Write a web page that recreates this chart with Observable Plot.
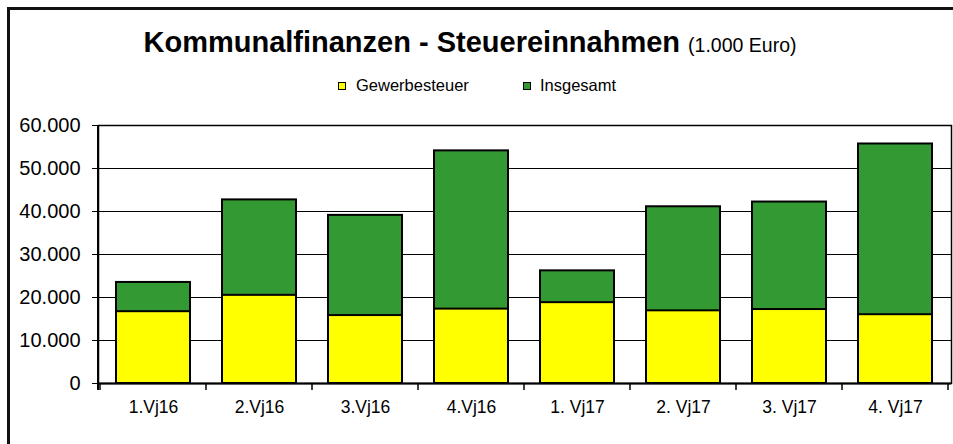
<!DOCTYPE html>
<html><head><meta charset="utf-8">
<script src="https://cdn.jsdelivr.net/npm/d3@7"></script>
<script src="https://cdn.jsdelivr.net/npm/@observablehq/plot@0.6"></script>
<style>
html,body{margin:0;padding:0;background:#fff;overflow:hidden;}
#wrap{position:relative;width:953px;height:444px;overflow:hidden;font-family:"Liberation Sans",Arial,sans-serif;color:#000;}
#outer{position:absolute;left:7px;top:7px;width:946px;height:437px;border-left:3px solid #111;border-top:3px solid #111;box-sizing:border-box;}
#title{position:absolute;left:0;width:940px;top:28px;text-align:center;font-size:29px;line-height:29px;font-weight:bold;white-space:nowrap;}
#title .unit{font-weight:normal;font-size:19.5px;}
.leg-sw{position:absolute;width:6px;height:6px;border:1.5px solid #000;}
.leg-tx{position:absolute;font-size:16.5px;line-height:16.5px;white-space:nowrap;}
#chart{position:absolute;left:0;top:100px;}
</style></head><body>
<div id="wrap"><div id="outer"></div>
<div id="title">Kommunalfinanzen - Steuereinnahmen <span class="unit">(1.000 Euro)</span></div>
<div id="legend"></div><div id="chart"></div></div>
<script>
const categories = ["1.Vj16","2.Vj16","3.Vj16","4.Vj16","1. Vj17","2. Vj17","3. Vj17","4. Vj17"];
const gewerbesteuer = [16700,20500,15800,17300,18800,16900,17200,16000];
const insgesamt = [23500,42700,39100,54100,26200,41100,42200,55700];
const seriesNames = ["Gewerbesteuer","Insgesamt"];
const seriesColors = ["#ffff00","#339933"];
const yTicks = [0,10000,20000,30000,40000,50000,60000];

const locale = d3.formatLocale({decimal:",", thousands:".", grouping:[3], currency:["","€"]});
const fmt = locale.format(",d");

// legend
const legend = document.getElementById("legend");
const legPos = [[338,356],[523,540]];
seriesNames.forEach((name,i)=>{
  const sw = document.createElement("div");
  sw.className="leg-sw"; sw.style.left=legPos[i][0]+"px"; sw.style.top="82px"; sw.style.background=seriesColors[i];
  const tx = document.createElement("div");
  tx.className="leg-tx"; tx.style.left=legPos[i][1]+"px"; tx.style.top="77px"; tx.textContent=name;
  legend.appendChild(sw); legend.appendChild(tx);
});

const data = categories.map((c,i)=>({cat:c, g:gewerbesteuer[i], t:insgesamt[i]}));

function boundaryTicks(index, scales, values, dimensions) {
  const x = scales.x;
  const pos = categories.map(c => x(c));
  const step = pos[1]-pos[0];
  let bw = typeof x.bandwidth === "function" ? x.bandwidth() : x.bandwidth;
  if (bw == null || isNaN(bw)) bw = step*0.7;
  const y0 = dimensions.height - dimensions.marginBottom;
  const edges = pos.map(p => p - (step-bw)/2);
  edges.push(pos[pos.length-1] + bw + (step-bw)/2);
  const g = d3.create("svg:g");
  g.selectAll("line.t").data(edges).join("line")
    .attr("x1",d=>d).attr("x2",d=>d).attr("y1",y0).attr("y2",y0+7)
    .attr("stroke","#000").attr("stroke-width",1.5);
  g.append("line").attr("x1",dimensions.marginLeft).attr("x2",dimensions.marginLeft)
    .attr("y1",dimensions.marginTop).attr("y2",y0+7).attr("stroke","#000").attr("stroke-width",2);
  return g.node();
}

const chart = Plot.plot({
  width:953, height:340, marginLeft:98, marginRight:2, marginTop:25, marginBottom:57,
  style:{fontFamily:'"Liberation Sans",Arial,sans-serif', fontSize:"20px", color:"#000", background:"transparent", overflow:"visible"},
  x:{domain:categories, paddingInner:0.3, paddingOuter:0.15, label:null},
  y:{domain:[0,60000], label:null},
  marks:[
    Plot.gridY(yTicks,{stroke:"#000", strokeOpacity:1, strokeWidth:1}),
    Plot.barY(data,{x:"cat", y:"t", fill:seriesColors[1], stroke:"#000", strokeWidth:2}),
    Plot.barY(data,{x:"cat", y:"g", fill:seriesColors[0], stroke:"#000", strokeWidth:2}),
    Plot.frame({stroke:"#000", strokeWidth:1.5}),
    Plot.ruleY([0],{stroke:"#000", strokeWidth:2}),
    Plot.axisY(yTicks,{tickSize:6, tickPadding:12, tickFormat:fmt, fontSize:20, label:null}),
    Plot.axisX({tickSize:0, tickPadding:17, fontSize:17.5, label:null}),
    boundaryTicks
  ]
});
document.getElementById("chart").appendChild(chart);
</script></body></html>
